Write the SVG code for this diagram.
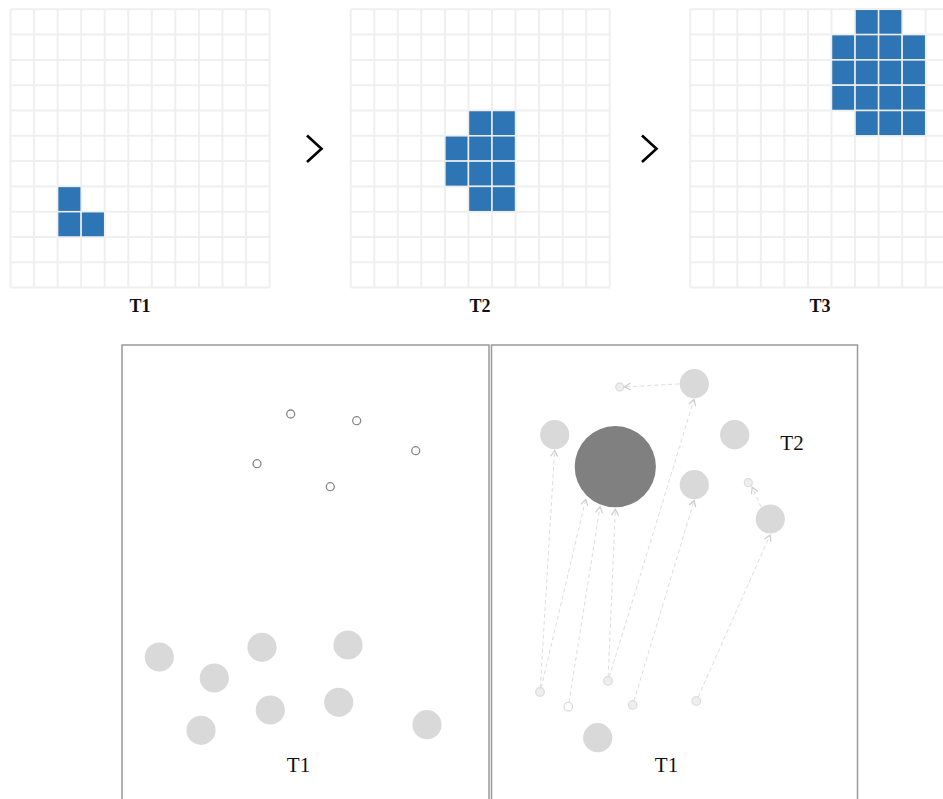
<svg xmlns="http://www.w3.org/2000/svg" xmlns:xlink="http://www.w3.org/1999/xlink" width="943" height="799" viewBox="0 0 943 799">
<style>
.gl{fill:none;stroke:#efefef;stroke-width:2}
.on{fill:#2e75b6;stroke:#efefef;stroke-width:1.5}
.glab{font-family:"Liberation Serif","Times New Roman",serif;font-weight:bold;font-size:18px;fill:#111;text-anchor:middle}
.plab{font-family:"Liberation Serif","Times New Roman",serif;font-size:21px;fill:#111;text-anchor:middle}
.chev{fill:none;stroke:#000;stroke-width:2.6}
.panel{fill:#fff;stroke:#999;stroke-width:1.5}
.big{fill:#d9d9d9}
.dark{fill:#808080}
.ring{fill:#fff;stroke:#888;stroke-width:1.3}
.pt{fill:#eee;stroke:#ddd;stroke-width:1.3}
.pto{fill:#fff;stroke:#ddd;stroke-width:1.3}
.ln{fill:none;stroke:#ddd;stroke-width:1;stroke-dasharray:4 3;marker-end:url(#ah)}
</style>
<defs>
<marker id="ah" markerWidth="10" markerHeight="10" refX="8" refY="5" orient="auto" markerUnits="userSpaceOnUse">
<path d="M2,1.5 L8,5 L2,8.5" fill="none" stroke="#ccc" stroke-width="1.2"/>
</marker>
<path id="gridlines" class="gl" d="M0,0V278.3M23.55,0V278.3M47.1,0V278.3M70.65,0V278.3M94.2,0V278.3M117.75,0V278.3M141.3,0V278.3M164.85,0V278.3M188.4,0V278.3M211.95,0V278.3M235.5,0V278.3M259.05,0V278.3M0,0H259.05M0,25.3H259.05M0,50.6H259.05M0,75.9H259.05M0,101.2H259.05M0,126.5H259.05M0,151.8H259.05M0,177.1H259.05M0,202.4H259.05M0,227.7H259.05M0,253H259.05M0,278.3H259.05"/>
</defs>
<rect width="943" height="799" fill="#fff"/>

<g id="grid-t1" transform="translate(10.5,9.3)">
<use xlink:href="#gridlines"/>
<rect class="on" x="47.1" y="177.1" width="23.55" height="25.3"/>
<rect class="on" x="47.1" y="202.4" width="23.55" height="25.3"/>
<rect class="on" x="70.65" y="202.4" width="23.55" height="25.3"/>
</g>
<text class="glab" x="140" y="311.5">T1</text>

<g id="grid-t2" transform="translate(350.7,9.3)">
<use xlink:href="#gridlines"/>
<rect class="on" x="117.75" y="101.2" width="23.55" height="25.3"/>
<rect class="on" x="141.3" y="101.2" width="23.55" height="25.3"/>
<rect class="on" x="94.2" y="126.5" width="23.55" height="25.3"/>
<rect class="on" x="117.75" y="126.5" width="23.55" height="25.3"/>
<rect class="on" x="141.3" y="126.5" width="23.55" height="25.3"/>
<rect class="on" x="94.2" y="151.8" width="23.55" height="25.3"/>
<rect class="on" x="117.75" y="151.8" width="23.55" height="25.3"/>
<rect class="on" x="141.3" y="151.8" width="23.55" height="25.3"/>
<rect class="on" x="117.75" y="177.1" width="23.55" height="25.3"/>
<rect class="on" x="141.3" y="177.1" width="23.55" height="25.3"/>
</g>
<text class="glab" x="480" y="311.5">T2</text>

<g id="grid-t3" transform="translate(690.2,9.3)">
<use xlink:href="#gridlines"/>
<rect class="on" x="164.85" y="0" width="23.55" height="25.3"/>
<rect class="on" x="188.4" y="0" width="23.55" height="25.3"/>
<rect class="on" x="141.3" y="25.3" width="23.55" height="25.3"/>
<rect class="on" x="164.85" y="25.3" width="23.55" height="25.3"/>
<rect class="on" x="188.4" y="25.3" width="23.55" height="25.3"/>
<rect class="on" x="211.95" y="25.3" width="23.55" height="25.3"/>
<rect class="on" x="141.3" y="50.6" width="23.55" height="25.3"/>
<rect class="on" x="164.85" y="50.6" width="23.55" height="25.3"/>
<rect class="on" x="188.4" y="50.6" width="23.55" height="25.3"/>
<rect class="on" x="211.95" y="50.6" width="23.55" height="25.3"/>
<rect class="on" x="141.3" y="75.9" width="23.55" height="25.3"/>
<rect class="on" x="164.85" y="75.9" width="23.55" height="25.3"/>
<rect class="on" x="188.4" y="75.9" width="23.55" height="25.3"/>
<rect class="on" x="211.95" y="75.9" width="23.55" height="25.3"/>
<rect class="on" x="164.85" y="101.2" width="23.55" height="25.3"/>
<rect class="on" x="188.4" y="101.2" width="23.55" height="25.3"/>
<rect class="on" x="211.95" y="101.2" width="23.55" height="25.3"/>
</g>
<text class="glab" x="820" y="311.5">T3</text>

<g id="step-arrows">
<path class="chev" d="M307,135.5 L321.5,148.8 L307,162"/>
<path class="chev" d="M642,135.5 L656.5,148.8 L642,162"/>
</g>

<g id="panel-left">
<rect class="panel" x="122" y="345" width="367" height="470"/>
<circle class="ring" cx="290.7" cy="414" r="4"/>
<circle class="ring" cx="356.7" cy="420.7" r="4"/>
<circle class="ring" cx="415.7" cy="450.7" r="4"/>
<circle class="ring" cx="257" cy="463.7" r="4"/>
<circle class="ring" cx="330.3" cy="486.7" r="4"/>
<circle class="big" cx="159.3" cy="657" r="14.6"/>
<circle class="big" cx="214.3" cy="678" r="14.6"/>
<circle class="big" cx="262" cy="647.3" r="14.6"/>
<circle class="big" cx="348" cy="645" r="14.6"/>
<circle class="big" cx="201" cy="730.3" r="14.6"/>
<circle class="big" cx="270.3" cy="710" r="14.6"/>
<circle class="big" cx="338.7" cy="702.3" r="14.6"/>
<circle class="big" cx="427" cy="724.7" r="14.6"/>
<text class="plab" x="298.5" y="772">T1</text>
</g>

<g id="panel-right">
<rect class="panel" x="491.5" y="345" width="366" height="470"/>
<circle class="dark" cx="615.3" cy="466.7" r="40.6"/>
<circle class="big" cx="694.3" cy="383.7" r="14.6"/>
<circle class="big" cx="554.7" cy="434.7" r="14.6"/>
<circle class="big" cx="734.7" cy="434.7" r="14.6"/>
<circle class="big" cx="694.3" cy="484.7" r="14.6"/>
<circle class="big" cx="770.3" cy="519" r="14.6"/>
<circle class="big" cx="597.7" cy="737.7" r="14.6"/>
<circle class="pt" cx="619.7" cy="387" r="4"/>
<circle class="pt" cx="748.3" cy="482.7" r="4"/>
<circle class="pt" cx="540" cy="692" r="4.3"/>
<circle class="pto" cx="568.3" cy="706.7" r="4.3"/>
<circle class="pt" cx="608" cy="681" r="4.3"/>
<circle class="pt" cx="632.7" cy="705" r="4.3"/>
<circle class="pt" cx="696.3" cy="701" r="4.3"/>
<text class="plab" x="792" y="450">T2</text>
<text class="plab" x="666.5" y="772">T1</text>
</g>

<g id="connectors">
<path class="ln" d="M540.3,687.7 L554.6,450.5"/>
<path class="ln" d="M541.2,687.8 L585.7,499.3"/>
<path class="ln" d="M569,702.4 L600,506.7"/>
<path class="ln" d="M608.2,676.7 L615.3,509.3"/>
<path class="ln" d="M609.3,676.9 L694,399.3"/>
<path class="ln" d="M634,700.9 L694.1,500.5"/>
<path class="ln" d="M698.2,697 L770.1,535"/>
<path class="ln" d="M679.2,383.9 L624.5,386.9"/>
<path class="ln" d="M761,507 L752.2,487.2"/>
</g>
</svg>
